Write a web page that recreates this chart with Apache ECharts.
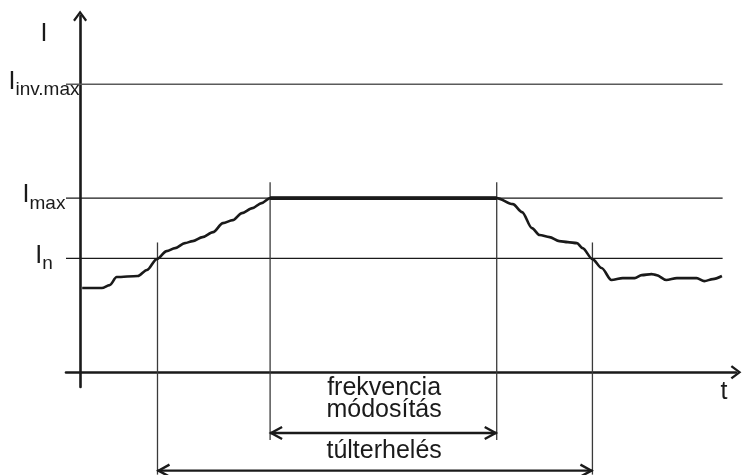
<!DOCTYPE html>
<html>
<head>
<meta charset="utf-8">
<script src="https://cdn.jsdelivr.net/npm/echarts@6/dist/echarts.min.js"></script>
<style>
  html, body { margin: 0; padding: 0; background: #fff; }
  #chart { width: 742px; height: 475px; }
</style>
</head>
<body>
<div id="chart"></div>
<script>
// current curve: time (arbitrary units) and current (% of In)
const curveTime = [0.3, 3.1, 4.2, 5.2, 8.2, 9.5, 10.9, 12.3, 13.5, 14.9, 16.0, 17.4, 18.9, 20.3, 21.7, 23.0, 24.5, 25.8, 27.0,
  59.2, 61.5, 62.8, 64.2, 65.3, 66.7, 68.1, 69.3, 70.6, 71.4, 72.8, 74.1, 75.5, 77.1, 78.8, 79.8, 81.2, 81.9, 83.3, 84.8, 86.6, 87.6, 88.7, 89.9, 91.2];
const curveCurrent = [74, 74, 76.5, 83.6, 84.5, 89.8, 99.4, 106.4, 109, 113.4, 115.2, 118.7, 123.1, 131, 133.6, 139.8, 144.2, 148.6, 153,
  153, 147.7, 140.7, 126.6, 120.5, 118.7, 115.2, 114.3, 113.4, 109, 99.4, 91.6, 81, 82.7, 82.7, 85.3, 86.2, 85.3, 81, 82.7, 82.7, 82.7, 80, 81.8, 84.5];

// limit levels
const levelNames = ['n', 'max', 'inv.max'];
const levelValues = [100, 153, 253];
const levelEnd = 91.3;

// switching instants: [time, top, bottom]
const markers = [[11.0, 114, -90], [27.0, 167, -59.5], [59.2, 167, -59.5], [72.8, 114, -90]];

// dimension arrows: [from, to, level]
const spans = [[27.0, 59.2, -53.4], [11.0, 72.8, -86.5]];
// captions: [time, level, text]
const captions = [[43.2, -14.3, 'frekvencia'], [43.2, -33.3, 'módosítás'], [43.2, -69.4, 'túlterhelés']];

const axisNameI = 295;   // where the "I" axis title sits
const axisNameT = 91.5;  // where the "t" axis title sits

const ink = '#1a1a1a';
const font = '"Liberation Sans", Arial, sans-serif';
const chevron = 'path://M7,0L14,9.3L12.2,10.8L7,3.6L1.8,10.8L0,9.3Z';

const chart = echarts.init(document.getElementById('chart'));

const series = [];

// horizontal limit lines
levelValues.forEach(function (v, i) {
  series.push({
    type: 'line',
    data: [[-2, v], [levelEnd, v]],
    symbol: 'none',
    silent: true,
    lineStyle: { color: i === 2 ? '#5a5a5a' : ink, width: i === 2 ? 1.6 : 1.4 },
    z: 1
  });
});

// vertical instants
markers.forEach(function (m) {
  series.push({
    type: 'line',
    data: [[m[0], m[1]], [m[0], m[2]]],
    symbol: 'none',
    silent: true,
    clip: false,
    lineStyle: { color: '#3a3a3a', width: 1.3 },
    z: 1
  });
});

// current curve
series.push({
  type: 'line',
  data: curveTime.map(function (t, i) { return [t, curveCurrent[i]]; }),
  symbol: 'none',
  smooth: 0.3,
  smoothMonotone: 'x',
  lineStyle: { color: ink, width: 2.6 },
  z: 3
});
// the limited (flat) part is drawn heavier
series.push({
  type: 'line',
  data: [[27.0, 153], [59.2, 153]],
  symbol: 'none',
  lineStyle: { color: ink, width: 3.6 },
  z: 3
});

// dimension arrows
series.push({
  type: 'custom',
  clip: false,
  data: spans,
  renderItem: function (params, api) {
    const a = api.coord([api.value(0), api.value(2)]);
    const b = api.coord([api.value(1), api.value(2)]);
    const st = { stroke: ink, lineWidth: 2.4, fill: null };
    return {
      type: 'group',
      children: [
        { type: 'line', shape: { x1: a[0], y1: a[1], x2: b[0], y2: b[1] }, style: st },
        { type: 'polyline', shape: { points: [[a[0] + 12, a[1] - 6], [a[0] + 1, a[1]], [a[0] + 12, a[1] + 6]] }, style: st },
        { type: 'polyline', shape: { points: [[b[0] - 12, b[1] - 6], [b[0] - 1, b[1]], [b[0] - 12, b[1] + 6]] }, style: st }
      ]
    };
  },
  z: 4
});

// captions under the axis
series.push({
  type: 'custom',
  clip: false,
  data: captions,
  renderItem: function (params, api) {
    const p = api.coord([api.value(0), api.value(1)]);
    return {
      type: 'text',
      x: p[0],
      y: p[1],
      style: {
        text: captions[params.dataIndex][2],
        font: '25px ' + font,
        fill: ink,
        align: 'center',
        verticalAlign: 'middle',
        textAlign: 'center',
        textVerticalAlign: 'middle'
      }
    };
  },
  z: 4
});

const option = {
  animation: false,
  backgroundColor: '#ffffff',
  grid: { left: 66, right: 6, top: 16, bottom: 88, containLabel: false, outerBoundsMode: 'none' },
  xAxis: {
    type: 'value',
    min: -2,
    max: 93.2,
    splitLine: { show: false },
    axisTick: { show: false },
    axisLine: {
      onZero: true,
      symbol: ['none', chevron],
      symbolSize: [14, 11],
      lineStyle: { color: ink, width: 2.6 }
    },
    axisLabel: {
      customValues: [axisNameT],
      formatter: function () { return 't'; },
      margin: -7,
      color: ink,
      fontFamily: font,
      fontSize: 25,
      verticalAlign: 'top'
    }
  },
  yAxis: {
    type: 'value',
    min: -13,
    max: 313,
    splitLine: { show: false },
    axisTick: { show: false },
    axisLine: {
      onZero: true,
      symbol: ['none', chevron],
      symbolSize: [14, 11],
      lineStyle: { color: ink, width: 2.6 }
    },
    axisLabel: {
      customValues: levelValues.concat([axisNameI]),
      margin: 22,
      align: 'center',
      color: ink,
      formatter: function (v) {
        const k = levelValues.indexOf(v);
        if (k < 0) return '{b|I}';
        return '{b|I}{s|' + levelNames[k] + '}';
      },
      rich: {
        b: { fontFamily: font, fontSize: 25, color: ink, lineHeight: 30, verticalAlign: 'top' },
        s: { fontFamily: font, fontSize: 19, color: ink, lineHeight: 20, padding: [11, 0, 0, 0], verticalAlign: 'top' }
      }
    }
  },
  series: series
};

chart.setOption(option);
</script>
</body>
</html>
